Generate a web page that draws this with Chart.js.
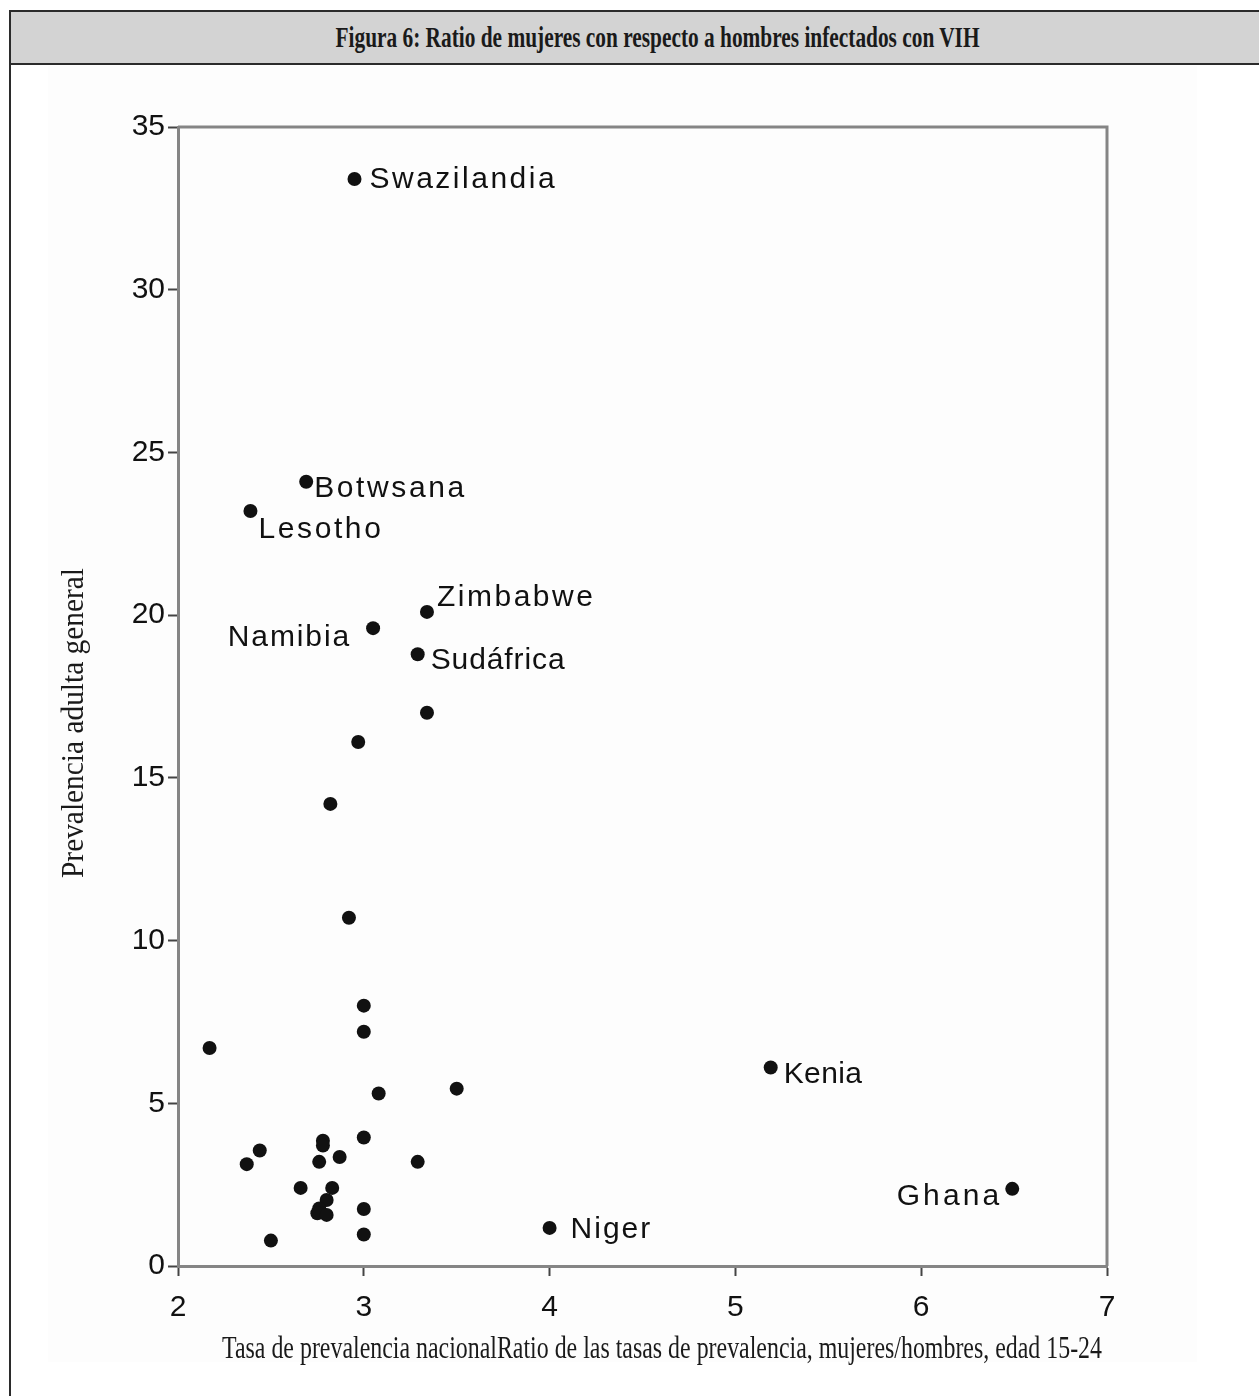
<!DOCTYPE html>
<html lang="es">
<head>
<meta charset="utf-8">
<title>Figura 6</title>
<script src="https://cdn.jsdelivr.net/npm/chart.js@4.4.1/dist/chart.umd.min.js"></script>
<style>
    html, body { margin: 0; padding: 0; background: #fff; overflow: hidden; }
    body { width: 1259px; height: 1396px; position: relative; }
    #marco {
        position: absolute; left: 9px; top: 10px; width: 1294px; height: 1500px;
        border-left: 2px solid #2b2b2b; border-top: 2px solid #2b2b2b;
    }
    #cabecera {
        height: 51px; background: #d3d3d3; border-bottom: 2px solid #2b2b2b;
        display: flex; align-items: center; justify-content: center;
    }
    #cabecera span {
        display: inline-block; font-family: "Liberation Serif", "DejaVu Serif", serif;
        font-weight: bold; font-size: 29px; color: #1a1a1a; white-space: nowrap;
    }
    #fondo { position: absolute; left: 48px; top: 66px; width: 1149px; height: 1296px; background: #fdfdfd; }
    #grafico { position: absolute; left: 0; top: 0; }
</style>
</head>
<body>
<div id="marco"><div id="cabecera"><span id="titulo">Figura 6: Ratio de mujeres con respecto a hombres infectados con VIH</span></div></div>
<div id="fondo"></div>
<canvas id="grafico" width="1259" height="1396"></canvas>
<script>
// Datos
var ratioMujeresHombres = [2.95, 2.69, 2.39, 3.34, 3.05, 3.29, 3.34, 2.97, 2.82, 2.92,
    3.00, 3.00, 2.17, 5.19, 3.50, 3.08, 3.00, 2.78, 2.78, 2.44,
    2.37, 2.76, 2.87, 3.29, 2.66, 2.83, 2.80, 2.76, 2.75, 2.80,
    3.00, 3.00, 2.50, 4.00, 6.49];
var prevalenciaAdulta = [33.4, 24.1, 23.2, 20.1, 19.6, 18.8, 17.0, 16.1, 14.2, 10.7,
    8.0, 7.2, 6.7, 6.1, 5.45, 5.3, 3.95, 3.85, 3.7, 3.55,
    3.13, 3.2, 3.35, 3.2, 2.4, 2.4, 2.03, 1.77, 1.62, 1.57,
    1.75, 0.97, 0.78, 1.17, 2.37];
var paises = ['Swazilandia', 'Botwsana', 'Lesotho', 'Zimbabwe', 'Namibia', 'Sudáfrica', '', '', '', '',
    '', '', '', 'Kenia', '', '', '', '', '', '',
    '', '', '', '', '', '', '', '', '', '',
    '', '', '', 'Niger', 'Ghana'];
var ticksX = [2, 3, 4, 5, 6, 7];
var ticksY = [0, 5, 10, 15, 20, 25, 30, 35];

var tituloX = 'Tasa de prevalencia nacionalRatio de las tasas de prevalencia, mujeres/hombres, edad 15-24';
var tituloY = 'Prevalencia adulta general';

// donde va cada etiqueta respecto a su punto
var colocacion = {
    'Swazilandia': { dx: 15, dy: 1, align: 'left', sp: 2.5 },
    'Botwsana': { dx: 8, dy: 7, align: 'left', sp: 2.6 },
    'Lesotho': { dx: 8, dy: 19, align: 'left', sp: 2.6 },
    'Zimbabwe': { dx: 10, dy: -14, align: 'left', sp: 2.5 },
    'Namibia': { dx: -22, dy: 10, align: 'right', sp: 1.9 },
    'Sudáfrica': { dx: 13, dy: 7, align: 'left', sp: 0.9 },
    'Kenia': { dx: 13, dy: 7, align: 'left', sp: 0.4 },
    'Ghana': { dx: -10, dy: 8, align: 'right', sp: 3.1 },
    'Niger': { dx: 21, dy: 2, align: 'left', sp: 2.0 }
};

var grisEje = '#858585';
var fuenteSans = '"Liberation Sans", Arial, sans-serif';
var fuenteSerif = '"Liberation Serif", "Times New Roman", serif';

document.addEventListener('DOMContentLoaded', function () {
    // titulo estrecho como en el original
    var titulo = document.getElementById('titulo');
    titulo.style.transform = 'scaleX(' + (644 / titulo.offsetWidth) + ')';

    var puntos = ratioMujeresHombres.map(function (x, i) {
        return { x: x, y: prevalenciaAdulta[i] };
    });

    function textoAjustado(ctx, texto, x, y, ancho, giro) {
        ctx.save();
        ctx.translate(x, y);
        ctx.rotate(giro);
        var w = ctx.measureText(texto).width;
        ctx.scale(ancho / w, 1);
        ctx.fillText(texto, 0, 0);
        ctx.restore();
    }

    var caja = {
        id: 'caja',
        beforeDatasetsDraw: function (chart) {
            var a = chart.chartArea;
            var ctx = chart.ctx;
            ctx.save();
            ctx.strokeStyle = grisEje;
            ctx.lineWidth = 3;
            ctx.beginPath();
            ctx.moveTo(a.left, a.top);
            ctx.lineTo(a.right, a.top);
            ctx.lineTo(a.right, a.bottom);
            ctx.stroke();
            ctx.restore();
        }
    };

    var etiquetas = {
        id: 'etiquetas',
        afterDatasetsDraw: function (chart) {
            var ctx = chart.ctx;
            var meta = chart.getDatasetMeta(0);
            ctx.save();
            ctx.font = '30px ' + fuenteSans;
            ctx.fillStyle = '#111';
            ctx.textBaseline = 'middle';
            paises.forEach(function (p, i) {
                if (!p) return;
                var c = colocacion[p];
                var pt = meta.data[i];
                ctx.letterSpacing = c.sp + 'px';
                ctx.textAlign = c.align;
                ctx.fillText(p, pt.x + c.dx, pt.y + c.dy);
            });
            ctx.restore();

            // titulos de los ejes
            var a = chart.chartArea;
            ctx.save();
            ctx.fillStyle = '#1a1a1a';
            ctx.textAlign = 'center';
            ctx.textBaseline = 'middle';
            ctx.font = '31px ' + fuenteSerif;
            textoAjustado(ctx, tituloX, a.left + 484, a.bottom + 84, 880, 0);
            textoAjustado(ctx, tituloY, a.left - 103, a.top + 596, 310, -Math.PI / 2);
            ctx.restore();
        }
    };

    var ctx = document.getElementById('grafico').getContext('2d');
    var grafico = new Chart(ctx, {
        type: 'scatter',
        data: {
            datasets: [{
                label: 'Países',
                data: puntos,
                backgroundColor: '#111',
                borderWidth: 0,
                pointRadius: 7,
                pointHoverRadius: 7
            }]
        },
        options: {
            responsive: false,
            animation: false,
            layout: { padding: { left: 0, top: 127, right: 152, bottom: 70 } },
            plugins: {
                legend: { display: false },
                tooltip: { enabled: false }
            },
            scales: {
                x: {
                    type: 'linear',
                    min: 2,
                    max: 7,
                    afterFit: function (s) { s.height = 60; },
                    afterBuildTicks: function (s) { s.ticks = ticksX.map(function (v) { return { value: v }; }); },
                    grid: { drawOnChartArea: false, tickLength: 10, tickColor: '#444', tickWidth: 2 },
                    border: { color: grisEje, width: 3 },
                    ticks: { color: '#111', padding: 14, font: { family: fuenteSans, size: 30 }, maxRotation: 0 }
                },
                y: {
                    type: 'linear',
                    min: 0,
                    max: 35,
                    afterFit: function (s) { s.width = 178; },
                    afterBuildTicks: function (s) { s.ticks = ticksY.map(function (v) { return { value: v }; }); },
                    grid: { drawOnChartArea: false, tickLength: 10, tickColor: '#444', tickWidth: 2 },
                    border: { color: grisEje, width: 3 },
                    ticks: { color: '#111', padding: 3, font: { family: fuenteSans, size: 30 } }
                }
            }
        },
        plugins: [caja, etiquetas]
    });
});
</script>
</body>
</html>
